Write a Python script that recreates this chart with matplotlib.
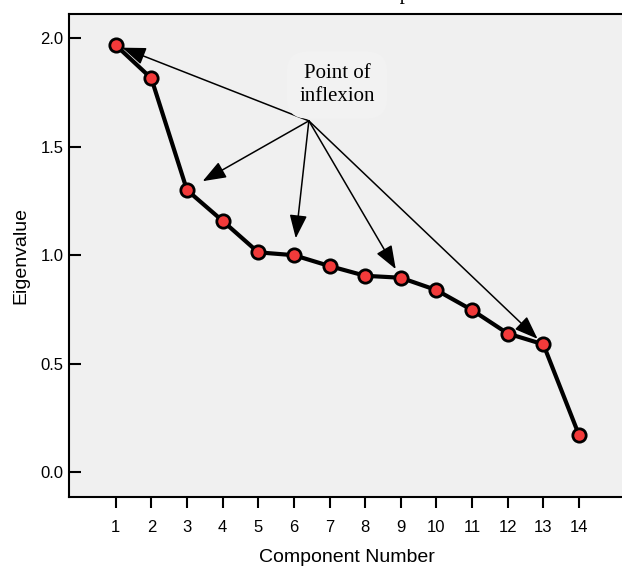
import matplotlib
matplotlib.use("Agg")
import matplotlib.pyplot as plt

# ---- data ----
components = [1, 2, 3, 4, 5, 6, 7, 8, 9, 10, 11, 12, 13, 14]
eigenvalues = [1.969, 1.816, 1.301, 1.159, 1.014, 1.001, 0.951, 0.906, 0.897,
               0.840, 0.748, 0.640, 0.590, 0.172]
x_ticks = components
y_ticks = [0.0, 0.5, 1.0, 1.5, 2.0]
y_tick_labels = ["0.0", "0.5", "1.0", "1.5", "2.0"]
title = "Scree plot"
x_label = "Component Number"
y_label = "Eigenvalue"
note_text = "Point of\ninflexion"
note_source = (6.42, 1.62)                 # common origin of the arrows (data units)
arrow_targets = [1, 3, 6, 9, 13]           # components the arrows point at
arrow_gap_px = [7, 18, 17, 10, 8]          # distance of arrow tip from the point
note_pos = (7.21, 1.785)

W, H = 622, 568
fig = plt.figure(figsize=(W / 100, H / 100), dpi=100)
fig.patch.set_facecolor("white")

left, right, top, bottom = 69.3, 625.4, 14.3, 496.7
ax = fig.add_axes([left / W, 1 - bottom / H, (right - left) / W, (bottom - top) / H])
ax.set_facecolor("#f0f0f0")

ax.set_xlim(-0.302, 15.302)
ax.set_ylim(-0.112, 2.111)

ax.plot(components, eigenvalues, color="black", lw=3.0, zorder=3,
        marker="o", markersize=9.6, markerfacecolor="#f23a3a",
        markeredgecolor="black", markeredgewidth=2.0)

for comp, gap in zip(arrow_targets, arrow_gap_px):
    ax.annotate("", xy=(comp, eigenvalues[comp - 1]), xytext=note_source,
                xycoords="data", textcoords="data",
                arrowprops=dict(arrowstyle="-|>,head_length=0.8,head_width=0.3",
                                mutation_scale=18, color="black", lw=1.1,
                                shrinkA=0, shrinkB=gap * 0.72),
                zorder=4)

ax.text(note_pos[0], note_pos[1], note_text, ha="center", va="center",
        family="Liberation Serif", fontsize=15, linespacing=1.3, zorder=5,
        bbox=dict(boxstyle="round,pad=0.6,rounding_size=1.0",
                  fc="#f2f2f2", ec="none"))

ax.set_xticks(x_ticks)
ax.set_xticklabels([str(v) for v in x_ticks])
ax.set_yticks(y_ticks)
ax.set_yticklabels(y_tick_labels)

for side in ["left", "bottom", "top"]:
    ax.spines[side].set_linewidth(1.5)
    ax.spines[side].set_color("black")
ax.spines["right"].set_visible(False)

ax.tick_params(axis="y", direction="in", length=8.6, width=1.5, pad=4,
               labelsize=12, labelfontfamily="Liberation Sans")
ax.tick_params(axis="x", direction="out", length=8, width=1.5, pad=9,
               labelsize=12, labelfontfamily="Liberation Sans")

ax.set_xlabel(x_label, family="Liberation Sans", fontsize=14, labelpad=10)
ax.set_ylabel(y_label, family="Liberation Sans", fontsize=14, labelpad=8)

fig.text(390 / W, 1 + 0.5 / H, title, ha="center", va="baseline",
         family="Liberation Serif", fontsize=15)

fig.savefig("out.png", dpi=100)
